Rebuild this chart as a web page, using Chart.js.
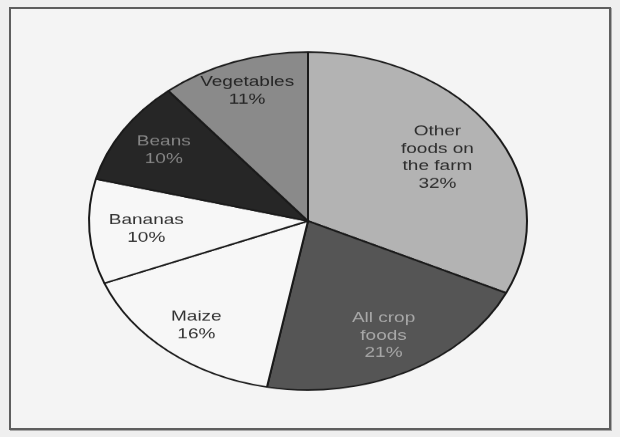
<!DOCTYPE html>
<html>
<head>
<meta charset="utf-8">
<script src="https://cdn.jsdelivr.net/npm/chart.js@4"></script>
<style>
  html, body { margin: 0; padding: 0; }
  body { width: 620px; height: 437px; background: #efefef; position: relative; overflow: hidden; }
  #frame { position: absolute; left: 9px; top: 7px; width: 598px; height: 419px; border: 2px solid #5e5e5e; background: #f4f4f4; box-shadow: 1px 1px 0 #aaa; }
  #wrap { position: absolute; left: 78px; top: -9px; width: 460px; height: 460px; transform: scaleY(0.7717); transform-origin: 50% 50%; }
</style>
</head>
<body>
<div id="frame"></div>
<div id="wrap"><canvas id="c" width="460" height="460"></canvas></div>
<script>
const categories = [['Other', 'foods on', 'the farm'], ['All crop', 'foods'], ['Maize'], ['Bananas'], ['Beans'], ['Vegetables']];
const shares = [32, 21, 16, 10, 10, 11];
const percentLabels = ['32%', '21%', '16%', '10%', '10%', '11%'];

const sliceColors = ['#b3b3b3', '#555555', '#f7f7f7', '#f7f7f7', '#262626', '#8a8a8a'];
const textColors = ['#2e2e2e', '#a8a8a8', '#333333', '#333333', '#858585', '#262626'];
const labelRadius = [0.70, 0.76, 0.80, 0.74, 0.78, 0.82];

const labelPlugin = {
  id: 'sliceLabels',
  afterDatasetsDraw(chart) {
    const ctx = chart.ctx;
    const meta = chart.getDatasetMeta(0);
    ctx.save();
    ctx.font = '19px "Liberation Sans", Arial, sans-serif';
    ctx.textAlign = 'center';
    ctx.textBaseline = 'middle';
    const lh = 22.7;
    meta.data.forEach((arc, i) => {
      const p = arc.getProps(['x', 'y', 'startAngle', 'endAngle', 'outerRadius'], true);
      const mid = (p.startAngle + p.endAngle) / 2;
      const r = p.outerRadius * labelRadius[i];
      const cx = p.x + Math.cos(mid) * r;
      const cy = p.y + Math.sin(mid) * r;
      const lines = [].concat(chart.data.labels[i], percentLabels[i]);
      const top = cy - (lines.length - 1) * lh / 2;
      ctx.fillStyle = textColors[i];
      lines.forEach((t, k) => ctx.fillText(t, cx, top + k * lh));
    });
    ctx.restore();
  }
};

new Chart(document.getElementById('c'), {
  type: 'pie',
  data: {
    labels: categories,
    datasets: [{
      data: shares,
      backgroundColor: sliceColors,
      borderColor: '#1a1a1a',
      borderWidth: 2,
      radius: 219,
      hoverOffset: 0
    }]
  },
  options: {
    responsive: false,
    animation: false,
    devicePixelRatio: 1,
    layout: { padding: 0 },
    plugins: { legend: { display: false }, tooltip: { enabled: false } },
    events: []
  },
  plugins: [labelPlugin]
});
</script>
</body>
</html>
